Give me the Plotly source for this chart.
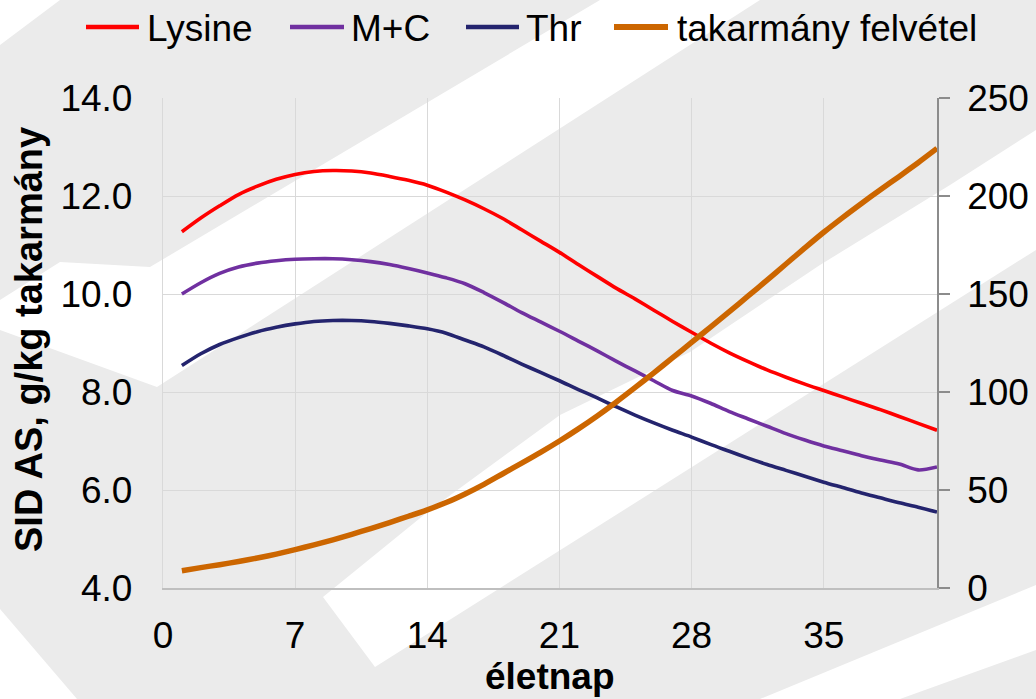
import plotly.graph_objects as go

# Day of life
days = list(range(1, 42))

# SID amino acid requirement, g/kg feed (left axis)
lysine = [11.27, 11.55, 11.80, 12.03, 12.20, 12.34, 12.44, 12.50, 12.52, 12.51,
          12.47, 12.40, 12.32, 12.22, 12.08, 11.92, 11.74, 11.54, 11.31, 11.08,
          10.85, 10.60, 10.36, 10.12, 9.90, 9.67, 9.44, 9.22, 9.00, 8.80,
          8.62, 8.45, 8.30, 8.16, 8.03, 7.90, 7.77, 7.64, 7.50, 7.36, 7.22]
met_cys = [10.00, 10.23, 10.42, 10.55, 10.63, 10.68, 10.71, 10.72, 10.72, 10.70,
           10.66, 10.60, 10.52, 10.43, 10.33, 10.21, 10.03, 9.83, 9.62, 9.43,
           9.24, 9.04, 8.84, 8.63, 8.43, 8.23, 8.03, 7.92, 7.77, 7.60,
           7.45, 7.30, 7.15, 7.02, 6.90, 6.80, 6.70, 6.61, 6.53, 6.41, 6.47]
threonine = [8.54, 8.78, 8.97, 9.11, 9.23, 9.32, 9.39, 9.44, 9.46, 9.46,
             9.44, 9.40, 9.35, 9.29, 9.20, 9.06, 8.92, 8.75, 8.57, 8.40,
             8.23, 8.05, 7.88, 7.70, 7.53, 7.37, 7.22, 7.08, 6.93, 6.79,
             6.65, 6.52, 6.40, 6.28, 6.16, 6.05, 5.94, 5.84, 5.74, 5.65, 5.55]

# Feed intake, g/day (right axis)
feed_intake = [8.8, 10.4, 11.9, 13.5, 15.3, 17.3, 19.6, 22.0, 24.6, 27.4,
               30.3, 33.4, 36.6, 39.9, 43.6, 48.0, 52.9, 58.3, 63.7, 69.2,
               75.0, 81.2, 87.8, 94.8, 102.2, 109.8, 117.5, 125.3, 133.1, 141.0,
               149.0, 157.1, 165.3, 173.5, 181.5, 189.0, 196.2, 203.2, 210.0, 217.0, 224.3]

series_names = ["Lysine", "M+C", "Thr", "takarmány felvétel"]

x_ticks = [0, 7, 14, 21, 28, 35]
left_ticks = [4, 6, 8, 10, 12, 14]
right_ticks = [0, 50, 100, 150, 200, 250]

W, H = 1036, 699
L, R, T, B = 163, 99, 98, 111
PW, PH = W - L - R, H - T - B

FONT = "Arial, 'Liberation Sans', sans-serif"
GRID = "#D9D9D9"


def px_to_paper(pt):
    x, y = pt
    return (x - L) / PW, (T + PH - y) / PH


def poly_path(points):
    pts = [px_to_paper(p) for p in points]
    return "M " + " L ".join(f"{x:.4f},{y:.4f}" for x, y in pts) + " Z"


# Light diagonal stripes of the slide background
stripes = [
    [(0, 0), (60, 0), (0, 45)],
    [(157, 387), (760, 0), (600, 0), (150, 267), (60, 262), (0, 300), (0, 330)],
    [(323, 597), (375, 667), (1036, 250), (1036, 130), (950, 185),
     (820, 265), (690, 352), (560, 415), (430, 510)],
    [(760, 699), (1036, 585), (1036, 650), (900, 699)],
    [(0, 609), (0, 699), (77, 699)],
]

styles = [
    ("#FF0000", 3.6, "y"),
    ("#7030A0", 3.6, "y"),
    ("#24246E", 3.6, "y"),
    ("#CC6600", 5.5, "y2"),
]
values = [lysine, met_cys, threonine, feed_intake]

fig = go.Figure()
for name, vals, (color, width, yax) in zip(series_names, values, styles):
    fig.add_trace(go.Scatter(
        x=days, y=vals, name=name, mode="lines", yaxis=yax, showlegend=False,
        line=dict(color=color, width=width, shape="spline", smoothing=0.8),
    ))

for s in stripes:
    fig.add_shape(type="path", path=poly_path(s), xref="paper", yref="paper",
                  fillcolor="white", line=dict(width=0), layer="below")

# Legend row across the top: sample line + label for each series
legend_y = 27
legend_slots = [(86, 139, 145), (290, 344, 349), (466, 519, 524), (614, 668, 675)]
annotations = []
for name, (color, width, _), (x0, x1, xt) in zip(series_names, styles, legend_slots):
    p0 = px_to_paper((x0, legend_y))
    p1 = px_to_paper((x1, legend_y))
    fig.add_shape(type="line", xref="paper", yref="paper",
                  x0=p0[0], y0=p0[1], x1=p1[0], y1=p1[1],
                  line=dict(color=color, width=width + 0.7))
    pt = px_to_paper((xt, legend_y + 1))
    annotations.append(dict(text=name, xref="paper", yref="paper", x=pt[0], y=pt[1],
                            xanchor="left", yanchor="middle", showarrow=False,
                            font=dict(family=FONT, size=37, color="black")))

yt = px_to_paper((29, 340))
xt = px_to_paper((550, 698))
annotations += [
    dict(text="<b>SID AS, g/kg takarmány</b>", textangle=-90,
         xref="paper", yref="paper", x=yt[0], y=yt[1],
         xanchor="center", yanchor="middle", showarrow=False,
         font=dict(family=FONT, size=38, color="black")),
    dict(text="<b>életnap</b>", xref="paper", yref="paper", x=xt[0], y=xt[1],
         xanchor="center", yanchor="bottom", showarrow=False, borderpad=0,
         font=dict(family=FONT, size=37, color="black")),
]

tickfont = dict(family=FONT, size=37, color="black")
fig.update_layout(
    width=W, height=H,
    margin=dict(l=L, r=R, t=T, b=B, autoexpand=False),
    paper_bgcolor="#EBEBEB",
    plot_bgcolor="rgba(0,0,0,0)",
    font=dict(family=FONT, size=37, color="black"),
    showlegend=False,
    xaxis=dict(
        range=[0, 41], tickvals=x_ticks, ticktext=[str(v) for v in x_ticks],
        showgrid=True, gridcolor=GRID, gridwidth=1.3, zeroline=False,
        showline=True, linecolor="#BFBFBF", linewidth=2,
        ticks="", ticklabelstandoff=14, tickfont=tickfont,
    ),
    yaxis=dict(
        range=[4, 14], tickvals=left_ticks, ticktext=[f"{v:.1f}" for v in left_ticks],
        showgrid=True, gridcolor=GRID, gridwidth=1.3, zeroline=False,
        showline=True, linecolor=GRID, linewidth=1.3,
        ticks="", ticklabelstandoff=22, tickfont=tickfont,
    ),
    yaxis2=dict(
        range=[0, 250], tickvals=right_ticks, ticktext=[str(v) for v in right_ticks],
        overlaying="y", side="right", showgrid=False, zeroline=False,
        showline=True, linecolor="#8C8C8C", linewidth=1.5,
        ticks="outside", ticklen=11, tickcolor="#8C8C8C", tickwidth=1.5,
        ticklabelstandoff=10, tickfont=tickfont,
    ),
    annotations=annotations,
)

fig.write_html("out.html")
